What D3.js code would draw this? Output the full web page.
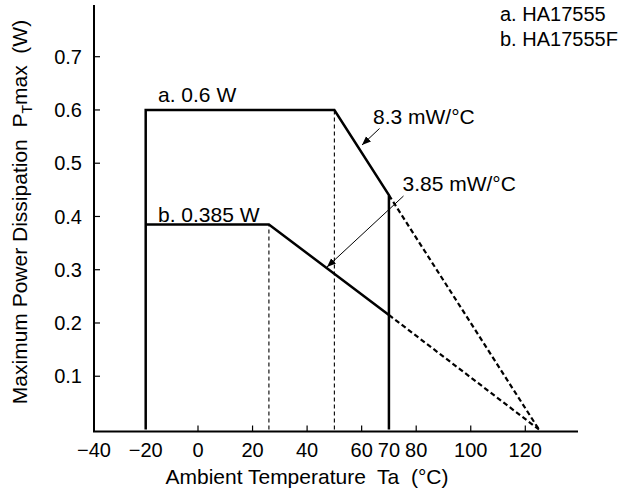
<!DOCTYPE html>
<html>
<head>
<meta charset="utf-8">
<script src="https://cdn.jsdelivr.net/npm/d3@7"></script>
<style>
  body { margin: 0; background: #fff; }
  text { font-family: "Liberation Sans", Arial, Helvetica, sans-serif; fill: #000; }
</style>
</head>
<body>
<div id="chart"></div>
<script>
// tick values
var xTicks = [-40, -20, 0, 20, 40, 60, 70, 80, 100, 120];
var xMinorTicks = [0, 20, 40, 60, 80, 100, 120];
var yTicks = [0.1, 0.2, 0.3, 0.4, 0.5, 0.6, 0.7];

// derating curves (Ta in degC, Pt in W)
var curveA = [[-20, 0], [-20, 0.6], [50, 0.6], [70, 0.44], [70, 0]];
var curveAExt = [[70, 0.44], [125, 0]];
var curveB = [[-20, 0.385], [26, 0.385], [70, 0.215]];
var curveBExt = [[70, 0.215], [125, 0]];
var guideLines = [[[26, 0], [26, 0.385]], [[50, 0], [50, 0.6]]];

var legendLines = ["a. HA17555", "b. HA17555F"];

var width = 627, height = 497;
var fsTick = "20px", fs = "21px";

var svg = d3.select("#chart").append("svg")
    .attr("width", width)
    .attr("height", height);

// the printed axis is slightly squeezed left of 0, so piecewise
var x = d3.scaleLinear().domain([-40, -20, 0, 120]).range([94, 145.7, 198, 525.3]);
var y = d3.scaleLinear().domain([0, 0.7]).range([429.5, 56.7]);

var xEnd = 578, yTop = 5, yAxis = 431.5;

var defs = svg.append("defs");
defs.append("marker")
    .attr("id", "arrow")
    .attr("viewBox", "0 0 10 10")
    .attr("refX", 10)
    .attr("refY", 5)
    .attr("markerWidth", 9)
    .attr("markerHeight", 9)
    .attr("markerUnits", "userSpaceOnUse")
    .attr("orient", "auto")
    .append("path")
    .attr("d", "M0,1 L10,5 L0,9 Z")
    .attr("fill", "#000");

var line = d3.line()
    .x(function (d) { return x(d[0]); })
    .y(function (d) { return y(d[1]); });

// thin dashed guides
svg.selectAll(".guide")
    .data(guideLines)
    .enter().append("path")
    .attr("class", "guide")
    .attr("d", line)
    .attr("fill", "none")
    .attr("stroke", "#000")
    .attr("stroke-width", 1.1)
    .attr("stroke-dasharray", "4,3");

// dashed extensions
svg.selectAll(".ext")
    .data([curveAExt, curveBExt])
    .enter().append("path")
    .attr("class", "ext")
    .attr("d", line)
    .attr("fill", "none")
    .attr("stroke", "#000")
    .attr("stroke-width", 2.2)
    .attr("stroke-dasharray", "5,3");

// solid curves
svg.selectAll(".curve")
    .data([curveA, curveB])
    .enter().append("path")
    .attr("class", "curve")
    .attr("d", line)
    .attr("fill", "none")
    .attr("stroke", "#000")
    .attr("stroke-width", 2.5)
    .attr("stroke-linejoin", "miter");

// axes frame
svg.append("path")
    .attr("d", "M94," + yTop + "V" + yAxis + "H" + xEnd)
    .attr("fill", "none")
    .attr("stroke", "#000")
    .attr("stroke-width", 2);

// x ticks (inward)
svg.selectAll(".xtick")
    .data(xMinorTicks)
    .enter().append("line")
    .attr("x1", function (d) { return x(d); })
    .attr("x2", function (d) { return x(d); })
    .attr("y1", yAxis)
    .attr("y2", yAxis - 6)
    .attr("stroke", "#000")
    .attr("stroke-width", 1.2);

svg.selectAll(".xlab")
    .data(xTicks)
    .enter().append("text")
    .attr("x", function (d) { return x(d); })
    .attr("y", 457)
    .attr("text-anchor", "middle")
    .style("font-size", fsTick)
    .text(function (d) { return d < 0 ? "\u2212" + Math.abs(d) : d; });

// y ticks (inward)
svg.selectAll(".ytick")
    .data(yTicks)
    .enter().append("line")
    .attr("x1", 94)
    .attr("x2", 100)
    .attr("y1", function (d) { return y(d); })
    .attr("y2", function (d) { return y(d); })
    .attr("stroke", "#000")
    .attr("stroke-width", 1.2);

svg.selectAll(".ylab")
    .data(yTicks)
    .enter().append("text")
    .attr("x", 82)
    .attr("y", function (d) { return y(d); })
    .attr("dy", "0.36em")
    .attr("text-anchor", "end")
    .style("font-size", fsTick)
    .text(function (d) { return d.toFixed(1); });

// axis titles
svg.append("text")
    .attr("x", 307)
    .attr("y", 484)
    .attr("text-anchor", "middle")
    .style("font-size", fs)
    .attr("xml:space", "preserve")
    .text("Ambient Temperature  Ta  (\u00b0C)");

var yt = svg.append("text")
    .attr("transform", "translate(26.5,212) rotate(-90)")
    .attr("text-anchor", "middle")
    .attr("xml:space", "preserve")
    .style("font-size", fs);
yt.append("tspan").text("Maximum Power Dissipation  P");
yt.append("tspan").attr("dy", 5).style("font-size", "14px").text("T");
yt.append("tspan").attr("dy", -5).text("max  (W)");

// curve labels
svg.append("text")
    .attr("x", 158).attr("y", 102)
    .style("font-size", fs)
    .text("a. 0.6 W");
svg.append("text")
    .attr("x", 158).attr("y", 222)
    .style("font-size", fs)
    .text("b. 0.385 W");

// slope annotations
svg.append("text")
    .attr("x", 373).attr("y", 124)
    .style("font-size", fs)
    .text("8.3 mW/\u00b0C");
svg.append("line")
    .attr("x1", 379.5).attr("y1", 128.5)
    .attr("x2", 362).attr("y2", 145)
    .attr("stroke", "#000")
    .attr("stroke-width", 1)
    .attr("marker-end", "url(#arrow)");

svg.append("text")
    .attr("x", 402.5).attr("y", 191)
    .style("font-size", fs)
    .text("3.85 mW/\u00b0C");
svg.append("line")
    .attr("x1", 403.5).attr("y1", 196)
    .attr("x2", 327).attr("y2", 267)
    .attr("stroke", "#000")
    .attr("stroke-width", 1)
    .attr("marker-end", "url(#arrow)");

// legend
svg.selectAll(".legend")
    .data(legendLines)
    .enter().append("text")
    .attr("x", 500)
    .attr("y", function (d, i) { return 21 + i * 24.5; })
    .style("font-size", "20px")
    .text(function (d) { return d; });
</script>
</body>
</html>
